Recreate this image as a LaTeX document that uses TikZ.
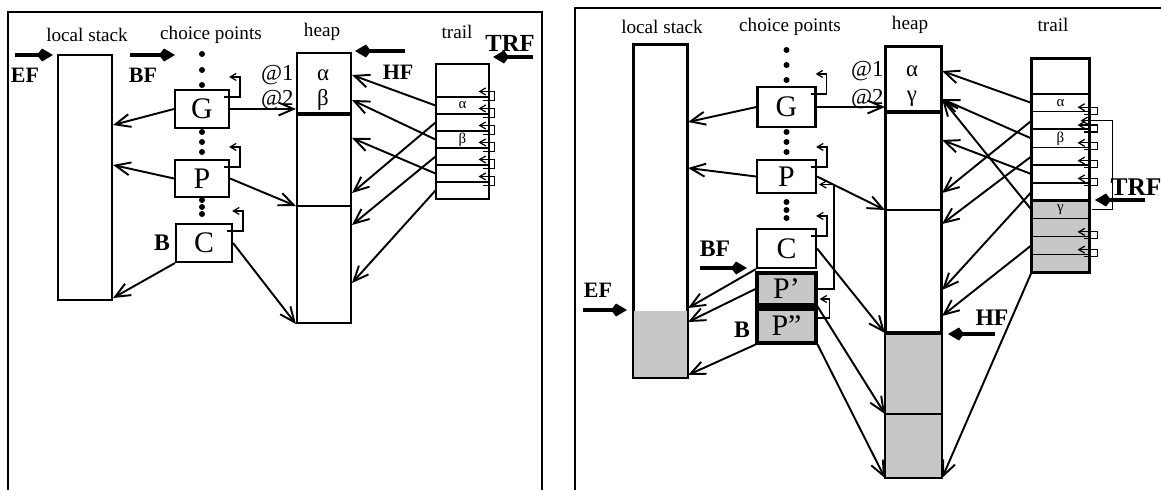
\documentclass[tikz,border=0pt]{standalone}
\usepackage{fontspec}
\setmainfont{Liberation Serif}
\usetikzlibrary{arrows.meta,positioning,calc}

\def\pxu{0.02cm}
\tikzstyle{title} = [inner sep=0pt, font=\fontsize{10.9}{12}\selectfont]
\tikzstyle{cell} = [rectangle, draw=black, line width=1.2pt, inner sep=0pt, font=\fontsize{17}{17}\selectfont]
\tikzstyle{slot} = [rectangle, draw=black, line width=0.6pt, inner sep=0pt, minimum height=17.8*\pxu]
\tikzstyle{grayfill} = [fill=black!22]
\tikzstyle{greek} = [inner sep=0pt, font=\fontsize{8.5}{8.5}\selectfont]
\tikzstyle{addr} = [inner sep=0pt, font=\fontsize{13}{13}\selectfont]
\tikzstyle{reg} = [inner sep=0pt, font=\fontsize{12.5}{12.5}\selectfont\bfseries]
\tikzstyle{ptr} = [line width=1.1pt, -{Straight Barb[length=3mm,width=2.6mm]}]
\tikzstyle{regarrow} = [line width=2pt, -{Kite[length=3.2mm,width=2.6mm,inset=1mm]}]
\tikzstyle{link} = [line width=0.7pt, -{Straight Barb[length=1.2mm,width=1.4mm]}]

\begin{document}
\begin{tikzpicture}[x=\pxu, y=-\pxu]
	\useasboundingbox (0,0) rectangle (1161,490);
	% Frames
	\draw [line width=1pt] (8,490) -- (8,12) -- (542,12) -- (542,490);
	\draw [line width=1pt] (575,490) -- (575,8) -- (1161,8);

	%%% left: before backtracking
	% Titles
	\node (lstitleA) [title] at (87,35) {local stack};
	\node (cptitleA) [title] at (211,35) {choice points};
	\node (hptitleA) [title] at (322,32) {heap};
	\node (trtitleA) [title] at (457,32) {trail};
	% Nodes
	\node (lsA) [cell, minimum width=54*\pxu, minimum height=245*\pxu] at (85,177.5) {};
	\node (gA) [cell, minimum width=54*\pxu, minimum height=38*\pxu] at (202,109) {G};
	\node (pA) [cell, minimum width=54*\pxu, minimum height=37*\pxu] at (202,178.5) {P};
	\node (cA) [cell, minimum width=56*\pxu, minimum height=38*\pxu] at (204,243) {C};
	\node (heapA) [cell, minimum width=54*\pxu, minimum height=270*\pxu] at (324,188) {};
	\node (trA0) [slot, minimum width=53*\pxu, minimum height=33*\pxu] at (462.5,80.5) {};
	\foreach \k in {1,...,6}
		\node (trA\k) [slot, minimum width=53*\pxu, minimum height=17*\pxu] at (462.5,88.5+17*\k) {};
	\draw [line width=1.8pt] (heapA.west |- 0,114) -- (heapA.east |- 0,114);
	\draw [line width=1.1pt] (heapA.west |- 0,206) -- (heapA.east |- 0,206);
	\node (alphaA) [addr] at (323,75) {α};
	\node (betaA) [addr] at (323,100) {β};
	\node (at1A) [addr, anchor=east] at (294,75) {@1};
	\node (at2A) [addr, anchor=east] at (294,100) {@2};
	\node [greek] at (trA1) {α};
	\node [greek] at (trA3) {β};
	\draw [line width=1.1pt] (trA0.north west) rectangle (trA6.south east);
	\foreach \k in {1,3,5}
		\draw [line width=1pt] (trA\k.north west) -- (trA\k.north east);
	% Dots
	\foreach \y in {54,70,85,132,142,152,200,207,214}
		\fill (202,\y) circle (0.6mm);
	% Links
	\foreach \b in {gA,pA,cA}
		\draw [link] ($(\b.north east)+(-6,8)$) -| ($(\b.north east)+(10,-12)$) -- ($(\b.north east)+(-1,-12)$);
	\foreach \k in {1,...,6}
		\draw [link] ($(trA\k.north east)+(-7,4)$) -| ($(trA\k.north east)+(5,-5)$) -- ($(trA\k.north east)+(-11,-5)$);
	% Arrows
	\draw [ptr] (gA.west) -- (lsA.east |- 0,125);
	\draw [ptr] (pA.west) -- (lsA.east |- 0,165);
	\draw [ptr] (cA.south west) -- (lsA.east |- 0,298);
	\draw [ptr] (gA.east) -- (heapA.west |- gA.east);
	\draw [ptr] (pA.east) -- (heapA.west |- 0,206);
	\draw [ptr] (cA.east) -- (heapA.south west);
	\draw [ptr] (trA1.west) -- (heapA.east |- alphaA);
	\draw [ptr] (trA3.west) -- (heapA.east |- betaA);
	\draw [ptr] (trA5.west) -- (heapA.east |- 0,138);
	\draw [ptr] (trA2.west) -- (heapA.east |- 0,193);
	\draw [ptr] (trA4.west) -- (heapA.east |- 0,225);
	\draw [ptr] (trA6.west) -- (heapA.east |- 0,283);
	% Registers
	\node (efA) [reg] at (25,75) {EF};
	\node (bfA) [reg] at (143,75) {BF};
	\node (bA) [reg, font=\fontsize{13.5}{13.5}\selectfont\bfseries] at (162,243) {B};
	\node (hfA) [reg] at (398,72) {HF};
	\node (trfA) [reg, font=\fontsize{14}{14}\selectfont\bfseries] at (510,43) {TRF};
	\coordinate (efAtail) at (15,55);
	\coordinate (bfAtail) at (130,55);
	\coordinate (hfAtail) at (405,51);
	\coordinate (trfAtail) at (533,57);
	\draw [regarrow] (efAtail) -- ++(38,0);
	\draw [regarrow] (bfAtail) -- ++(45,0);
	\draw [regarrow] (hfAtail) -- ++(-50,0);
	\draw [regarrow] (trfAtail) -- ++(-40,0);

	%%% right: after backtracking
	% Titles
	\node (lstitleB) [title] at (662,27) {local stack};
	\node (cptitleB) [title] at (790,27) {choice points};
	\node (hptitleB) [title] at (910,25) {heap};
	\node (trtitleB) [title] at (1053,25) {trail};
	% Nodes
	\node (lsB) [cell, minimum width=53*\pxu, minimum height=332*\pxu] at (660.5,211) {};
	\fill [grayfill] (lsB.south west) rectangle (lsB.east |- 0,311);
	\draw [line width=1.2pt] (lsB.south west) rectangle (lsB.north east);
	\node (gB) [cell, minimum width=58*\pxu, minimum height=40*\pxu] at (786.5,107) {G};
	\node (pB) [cell, minimum width=59*\pxu, minimum height=33*\pxu] at (786.5,176.5) {P};
	\node (cB) [cell, minimum width=59*\pxu, minimum height=39*\pxu] at (786.5,248.5) {C};
	\node (pp1B) [cell, grayfill, line width=1.8pt, minimum width=59*\pxu, minimum height=32*\pxu] at (786.5,289) {P'};
	\node (pp2B) [cell, grayfill, line width=1.8pt, minimum width=59*\pxu, minimum height=34*\pxu] at (786.5,326) {P''};
	\node (heapB) [cell, minimum width=55*\pxu, minimum height=430*\pxu] at (913.5,262) {};
	\fill [grayfill] (heapB.west |- 0,333) rectangle (heapB.south east);
	\draw [line width=1.2pt] (heapB.south west) rectangle (heapB.north east);
	\draw [line width=1.8pt] (heapB.west |- 0,112) -- (heapB.east |- 0,112);
	\draw [line width=1.1pt] (heapB.west |- 0,210) -- (heapB.east |- 0,210);
	\draw [line width=2pt] (heapB.west |- 0,333) -- (heapB.east |- 0,333);
	\draw [line width=1.4pt] (heapB.west |- 0,414) -- (heapB.east |- 0,414);
	\node (alphaB) [addr] at (912,71) {α};
	\node (gammaB) [addr] at (912,99) {γ};
	\node (at1B) [addr, anchor=east] at (884,71) {@1};
	\node (at2B) [addr, anchor=east] at (884,99) {@2};
	\node (trB0) [slot, minimum width=57*\pxu, minimum height=35*\pxu] at (1060.5,76.5) {};
	\foreach \k in {1,...,6}
		\node (trB\k) [slot, minimum width=57*\pxu] at (1060.5,85.1+17.8*\k) {};
	\foreach \k in {7,...,10}
		\node (trB\k) [slot, grayfill, minimum width=57*\pxu] at (1060.5,85.1+17.8*\k) {};
	\node [greek] at (trB1) {α};
	\node [greek] at (trB3) {β};
	\node [greek] at (trB7) {γ};
	\draw [line width=1.2pt] (trB0.north west) rectangle (trB10.south east);
	\foreach \k in {1,3,5}
		\draw [line width=1pt] (trB\k.north west) -- (trB\k.north east);
	\draw [line width=1.6pt] (trB7.north west) -- (trB7.north east);
	% Dots
	\foreach \y in {50,65,80,132,142,152,202,210,218}
		\fill (786.5,\y) circle (0.6mm);
	% Links
	\foreach \b in {gB,pB,cB}
		\draw [link] ($(\b.north east)+(-6,8)$) -| ($(\b.north east)+(10,-12)$) -- ($(\b.north east)+(-1,-12)$);
	\draw [link] (pp1B.east) -| ($(pB.east)+(17,8)$) -- ($(pB.east)+(2,8)$);
	\draw [link] ($(pp2B.east)+(0,-8)$) -| ($(pp1B.east)+(12,10)$) -- ($(pp1B.east)+(2,10)$);
	\foreach \k in {2,...,6,9,10}
		\draw [link] ($(trB\k.north east)+(-6,3)$) -| ($(trB\k.north east)+(8,-4)$) -- ($(trB\k.north east)+(-12,-4)$);
	\draw [link] ($(trB7.east)+(2,0)$) -| ($(trB2.east)+(23,0)$) -- ($(trB2.east)+(-9,0)$);
	% Arrows
	\draw [ptr] (gB.west) -- (lsB.east |- 0,122);
	\draw [ptr] (pB.west) -- (lsB.east |- 0,168);
	\draw [ptr] (cB.south west) -- (lsB.east |- 0,308);
	\draw [ptr] (pp1B.west) -- (lsB.east |- 0,322);
	\draw [ptr] (pp2B.south west) -- (lsB.east |- 0,375);
	\draw [ptr] (gB.east) -- (heapB.west |- gB.east);
	\draw [ptr] (pB.east) -- (heapB.west |- 0,210);
	\draw [ptr] (cB.east) -- (heapB.west |- 0,333);
	\draw [ptr] (pp1B.south east) -- (heapB.west |- 0,414);
	\draw [ptr] (pp2B.south east) -- (heapB.south west);
	\draw [ptr] (trB1.west) -- (heapB.east |- alphaB);
	\draw [ptr] (trB3.west) -- (heapB.east |- gammaB);
	\draw [ptr] (trB7.west) -- (heapB.east |- gammaB);
	\draw [ptr] (trB5.west) -- (heapB.east |- 0,140);
	\draw [ptr] (trB2.west) -- (heapB.east |- 0,193);
	\draw [ptr] (trB4.west) -- (heapB.east |- 0,224);
	\draw [ptr] (trB6.west) -- (heapB.east |- 0,290);
	\draw [ptr] (trB9.west) -- (heapB.east |- 0,316);
	\draw [ptr] (trB10.south west) -- (heapB.south east);
	% Registers
	\node (efB) [reg] at (598,290) {EF};
	\node (bfB) [reg, font=\fontsize{13.5}{13.5}\selectfont\bfseries] at (715,249) {BF};
	\node (bB) [reg, font=\fontsize{13.5}{13.5}\selectfont\bfseries] at (742,330) {B};
	\node (hfB) [reg, font=\fontsize{13.5}{13.5}\selectfont\bfseries] at (992,318) {HF};
	\node (trfB) [reg, font=\fontsize{14.5}{14.5}\selectfont\bfseries] at (1136,187) {TRF};
	\coordinate (efBtail) at (583,310);
	\coordinate (bfBtail) at (700,268);
	\coordinate (hfBtail) at (995,334);
	\coordinate (trfBtail) at (1145,200);
	\draw [regarrow] (efBtail) -- ++(44,0);
	\draw [regarrow] (bfBtail) -- ++(47,0);
	\draw [regarrow] (hfBtail) -- ++(-47,0);
	\draw [regarrow] (trfBtail) -- ++(-50,0);
\end{tikzpicture}
\end{document}
